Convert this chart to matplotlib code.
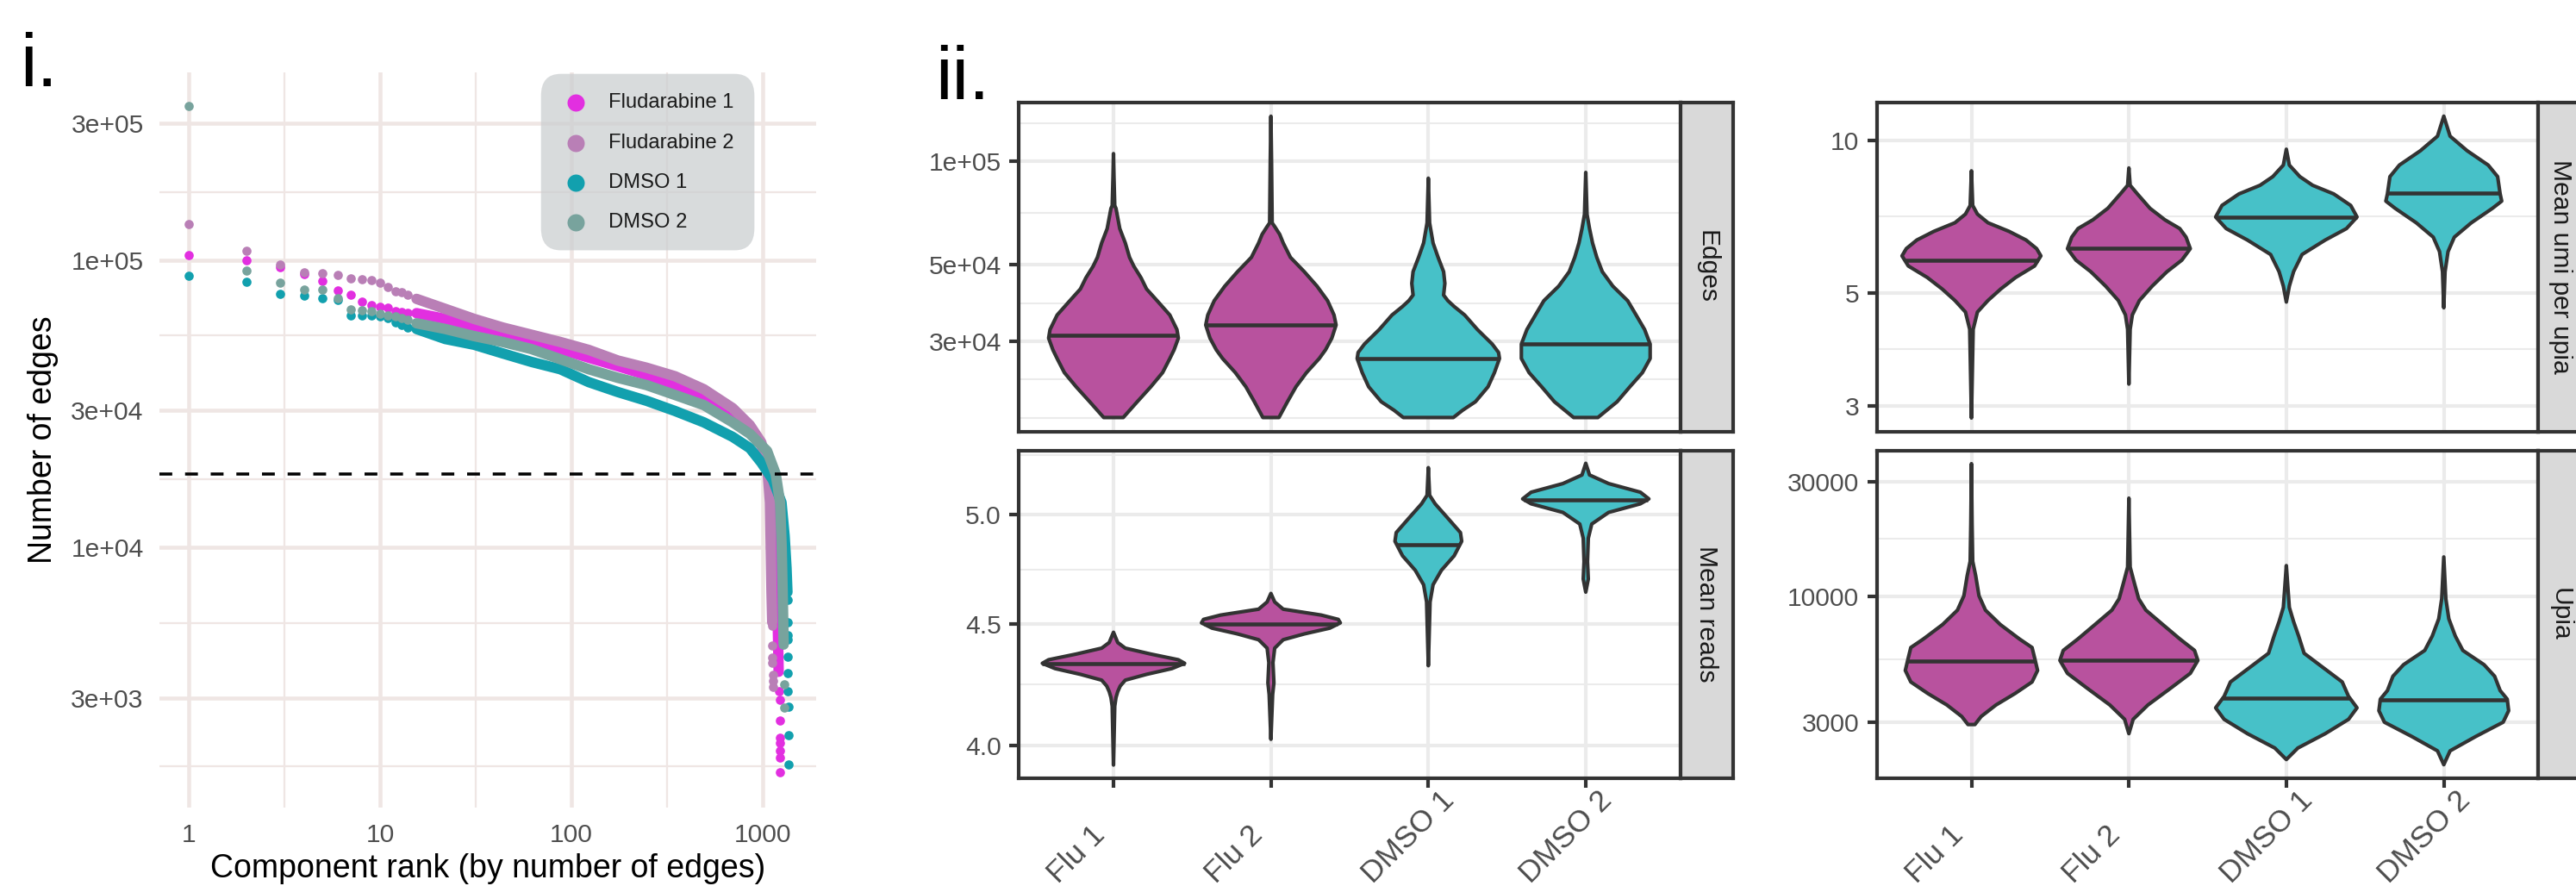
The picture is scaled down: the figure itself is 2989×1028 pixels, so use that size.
import numpy as np
import matplotlib.pyplot as plt
from matplotlib.patches import FancyBboxPatch
from matplotlib.ticker import NullLocator
from matplotlib.transforms import blended_transform_factory

plt.rcParams['font.family'] = ['Liberation Sans', 'DejaVu Sans']

W, H, DPI = 2989, 1028, 300

# ---------------- panel i: edges per component by rank ----------------
samples = ['Fludarabine 1', 'Fludarabine 2', 'DMSO 1', 'DMSO 2']
sample_cols = ['#E22FE0', '#B97FB6', '#12A0AE', '#78A39D']

# biggest components, one dot each
head_rank = [1, 2, 3, 4, 5, 6, 7, 8, 9, 10, 11, 12, 13, 14]
head_flu1 = [1.04e5, 1.0e5, 9.5e4, 8.98e4, 8.45e4, 7.86e4, 7.6e4, 7.17e4, 6.97e4, 6.89e4, 6.84e4, 6.66e4, 6.6e4, 6.56e4]
head_flu2 = [1.34e5, 1.08e5, 9.64e4, 9.1e4, 9.05e4, 8.9e4, 8.65e4, 8.58e4, 8.54e4, 8.36e4, 8.07e4, 7.82e4, 7.75e4, 7.6e4]
head_dmso1 = [8.86e4, 8.42e4, 7.66e4, 7.56e4, 7.36e4, 7.27e4, 6.45e4, 6.42e4, 6.41e4, 6.4e4, 6.3e4, 6.1e4, 5.95e4, 5.85e4]
head_dmso2 = [3.45e5, 9.22e4, 8.38e4, 7.93e4, 7.9e4, 7.36e4, 6.77e4, 6.71e4, 6.66e4, 6.54e4, 6.45e4, 6.37e4, 6.3e4, 6.2e4]

# dense part of each curve, read along the band
flu1_rank = [15.5, 21.9, 31, 43.7, 61.9, 87.4, 123, 175, 247, 348, 492, 696, 856, 982, 1090, 1148, 1170, 1185, 1200, 1210]
flu1_edges = [6.55e4, 6.255e4, 5.905e4, 5.64e4, 5.325e4, 4.91e4, 4.585e4, 4.28e4, 3.99e4, 3.68e4, 3.36e4,
              2.925e4, 2.58e4, 2.27e4, 1.89e4, 1.437e4, 1.0e4, 7.0e3, 5.0e3, 3.7e3]
flu2_rank = [15.5, 21.9, 31, 43.7, 61.9, 87.4, 123, 175, 247, 348, 492, 696, 856, 982, 1053, 1090, 1100, 1110, 1120]
flu2_edges = [7.345e4, 6.78e4, 6.255e4, 5.84e4, 5.51e4, 5.2e4, 4.88e4, 4.48e4, 4.23e4, 3.95e4, 3.56e4,
              3.06e4, 2.67e4, 2.325e4, 1.934e4, 1.437e4, 1.0e4, 7.0e3, 5.5e3]
dmso1_rank = [15.5, 21.9, 31, 43.7, 61.9, 87.4, 123, 175, 247, 348, 492, 696, 856, 982, 1129, 1252, 1300, 1330, 1345]
dmso1_edges = [5.77e4, 5.325e4, 5.085e4, 4.745e4, 4.43e4, 4.18e4, 3.77e4, 3.48e4, 3.245e4, 2.99e4, 2.73e4,
               2.43e4, 2.22e4, 1.978e4, 1.722e4, 1.437e4, 1.1e4, 8.5e3, 7.0e3]
dmso2_rank = [15.5, 21.9, 31, 43.7, 61.9, 87.4, 123, 175, 247, 348, 492, 696, 856, 1053, 1168, 1231, 1255, 1270, 1285]
dmso2_edges = [6.04e4, 5.77e4, 5.45e4, 5.2e4, 4.91e4, 4.53e4, 4.18e4, 3.9e4, 3.68e4, 3.4e4, 3.135e4,
               2.73e4, 2.49e4, 2.17e4, 1.805e4, 1.437e4, 1.0e4, 7.0e3, 4.6e3]

# smallest components, single dots again
flu1_tail_rank = [1222, 1223, 1224, 1225, 1226, 1227, 1228, 1229]
flu1_tail_edges = [3157, 2948, 2500, 2177, 2088, 1961, 1855, 1650]
flu2_tail_rank = [1122, 1123, 1124, 1125, 1126, 1127, 1128]
flu2_tail_edges = [5350, 4550, 4150, 3970, 3620, 3450, 3270]
dmso1_tail_rank = [1350, 1351, 1352, 1353, 1354, 1355, 1356, 1357, 1358, 1359]
dmso1_tail_edges = [6564, 5483, 4976, 4780, 4160, 3650, 3157, 2804, 2233, 1758]
dmso2_tail_rank = [1290, 1292]
dmso2_tail_edges = [3340, 2770]

edge_cutoff = 1.8e4

rank_ticks = [1, 10, 100, 1000]
rank_tick_labels = ['1', '10', '100', '1000']
rank_minor = [3.162, 31.62, 316.2]
edge_ticks = [3e3, 1e4, 3e4, 1e5, 3e5]
edge_tick_labels = ['3e+03', '1e+04', '3e+04', '1e+05', '3e+05']
edge_minor = [1.73e3, 5.48e3, 1.73e4, 5.48e4, 1.73e5]

# ---------------- panel ii: violins (value, half width) ----------------
groups = ['Flu 1', 'Flu 2', 'DMSO 1', 'DMSO 2']
group_fill = ['#B8529E', '#B8529E', '#47C1C8', '#47C1C8']

edges_y = [
    [1.05e5, 9.0e4, 7.42e4, 7.28e4, 6.36e4, 5.78e4, 5.25e4, 4.95e4, 4.58e4, 4.25e4, 3.93e4, 3.57e4, 3.24e4,
     3.06e4, 2.83e4, 2.67e4, 2.43e4, 2.21e4, 2.0e4, 1.8e4],
    [1.348e5, 1.0e5, 6.61e4, 6.45e4, 6.12e4, 5.78e4, 5.25e4, 4.77e4, 4.33e4, 3.93e4, 3.57e4, 3.34e4, 3.06e4,
     2.83e4, 2.67e4, 2.43e4, 2.21e4, 2.0e4, 1.8e4],
    [8.91e4, 6.61e4, 5.78e4, 5.25e4, 4.77e4, 4.41e4, 4.08e4, 3.93e4, 3.78e4, 3.57e4, 3.24e4, 2.94e4, 2.78e4,
     2.67e4, 2.43e4, 2.21e4, 2.0e4, 1.89e4, 1.8e4],
    [9.26e4, 7.0e4, 6.36e4, 5.78e4, 5.25e4, 4.77e4, 4.33e4, 3.93e4, 3.57e4, 3.24e4, 2.94e4, 2.67e4, 2.43e4,
     2.21e4, 2.0e4, 1.8e4],
]
edges_w = [
    [0, 0.003, 0.008, 0.016, 0.040, 0.075, 0.102, 0.129, 0.175, 0.210, 0.277, 0.358, 0.403, 0.412, 0.385,
     0.358, 0.312, 0.237, 0.151, 0.062],
    [0, 0.004, 0.008, 0.024, 0.056, 0.078, 0.124, 0.212, 0.293, 0.360, 0.401, 0.414, 0.387, 0.347, 0.307,
     0.226, 0.159, 0.105, 0.051],
    [0, 0.008, 0.030, 0.062, 0.097, 0.105, 0.097, 0.124, 0.164, 0.231, 0.312, 0.406, 0.446, 0.452, 0.420,
     0.379, 0.299, 0.218, 0.159],
    [0, 0.008, 0.024, 0.043, 0.070, 0.105, 0.172, 0.266, 0.320, 0.374, 0.409, 0.409, 0.360, 0.280, 0.199, 0.077],
]
edges_med = [3.12e4, 3.34e4, 2.67e4, 2.94e4]

reads_y = [
    [4.463, 4.419, 4.395, 4.370, 4.346, 4.331, 4.309, 4.285, 4.261, 4.237, 4.214, 4.190, 4.155, 3.925],
    [4.634, 4.596, 4.564, 4.538, 4.519, 4.504, 4.481, 4.456, 4.431, 4.395, 4.334, 4.250, 4.202, 4.024],
    [5.234, 5.096, 5.054, 4.984, 4.915, 4.874, 4.806, 4.739, 4.673, 4.596, 4.321],
    [5.256, 5.197, 5.154, 5.111, 5.078, 5.054, 5.012, 4.956, 4.888, 4.779, 4.699, 4.640],
]
reads_w = [
    [0, 0.027, 0.075, 0.237, 0.412, 0.452, 0.371, 0.210, 0.075, 0.043, 0.027, 0.016, 0.008, 0],
    [0, 0.024, 0.078, 0.320, 0.428, 0.441, 0.374, 0.212, 0.078, 0.024, 0.013, 0.019, 0.011, 0],
    [0, 0.008, 0.043, 0.124, 0.204, 0.212, 0.164, 0.083, 0.030, 0.011, 0],
    [0, 0.024, 0.145, 0.347, 0.401, 0.347, 0.145, 0.038, 0.016, 0.011, 0.016, 0],
]
reads_med = [4.331, 4.498, 4.856, 5.074]

umi_y = [
    [8.707, 7.441, 7.154, 6.879, 6.615, 6.36, 6.116, 5.919, 5.654, 5.365, 5.093, 4.834, 4.587, 4.242, 2.836],
    [8.821, 8.154, 7.841, 7.345, 6.97, 6.70, 6.445, 6.116, 5.805, 5.509, 5.160, 4.834, 4.528, 4.242, 3.308],
    [9.603, 8.937, 8.481, 8.154, 7.841, 7.441, 7.061, 6.70, 6.36, 5.957, 5.509, 5.160, 4.801],
    [11.16, 10.19, 9.541, 8.937, 8.481, 7.841, 7.59, 7.345, 6.879, 6.445, 6.035, 5.509, 4.677],
]
umi_w = [
    [0, 0.008, 0.038, 0.105, 0.239, 0.347, 0.414, 0.441, 0.401, 0.280, 0.186, 0.105, 0.038, 0.011, 0],
    [0, 0.008, 0.054, 0.134, 0.229, 0.323, 0.363, 0.390, 0.336, 0.242, 0.148, 0.067, 0.022, 0.008, 0],
    [0, 0.019, 0.086, 0.167, 0.301, 0.409, 0.449, 0.382, 0.247, 0.100, 0.046, 0.019, 0],
    [0, 0.040, 0.148, 0.282, 0.342, 0.358, 0.368, 0.309, 0.175, 0.067, 0.027, 0.008, 0],
]
umi_med = [5.805, 6.132, 7.061, 7.862]

upia_y = [
    [35620, 20000, 13970, 12170, 10040, 8750, 7625, 6645, 6116, 5477, 4909, 4397, 3937, 3527, 3160, 2924],
    [25600, 13220, 11520, 9765, 8750, 7625, 6645, 5948, 5405, 4775, 4160, 3527, 3073, 2679],
    [13410, 10600, 8990, 7840, 6830, 5787, 5044, 4397, 3831, 3432, 3073, 2679, 2334, 2091],
    [14570, 9765, 8055, 6830, 5948, 5186, 4644, 4049, 3728, 3338, 2990, 2605, 2272, 1990],
]
upia_w = [
    [0, 0.004, 0.008, 0.027, 0.048, 0.089, 0.183, 0.304, 0.385, 0.403, 0.420, 0.385, 0.277, 0.156, 0.062, 0.022],
    [0, 0.008, 0.032, 0.062, 0.108, 0.215, 0.323, 0.417, 0.438, 0.390, 0.269, 0.121, 0.027, 0],
    [0, 0.011, 0.019, 0.046, 0.078, 0.113, 0.234, 0.355, 0.395, 0.449, 0.395, 0.247, 0.073, 0],
    [0, 0.013, 0.032, 0.073, 0.121, 0.256, 0.323, 0.358, 0.403, 0.412, 0.377, 0.202, 0.040, 0],
]
upia_med = [5374, 5405, 3760, 3698]


def fig_box(x0, y0, x1, y1):
    # pixel box, origin top-left -> figure fraction
    return [x0 / W, 1 - y1 / H, (x1 - x0) / W, (y1 - y0) / H]


fig = plt.figure(figsize=(W / DPI, H / DPI), dpi=DPI)

# ===== panel i =====
ax = fig.add_axes(fig_box(185, 84, 947, 937))
ax.set_xscale('log')
ax.set_yscale('log')
ax.set_xlim(0.703, 1900)
ax.set_ylim(1246, 4.51e5)
for s in ax.spines.values():
    s.set_visible(False)
grid_col = '#EFE6E4'
for v in rank_ticks:
    ax.axvline(v, color=grid_col, lw=1.1, zorder=0)
for v in rank_minor:
    ax.axvline(v, color=grid_col, lw=0.55, zorder=0)
for v in edge_ticks:
    ax.axhline(v, color=grid_col, lw=1.1, zorder=0)
for v in edge_minor:
    ax.axhline(v, color=grid_col, lw=0.55, zorder=0)

heads = [head_flu1, head_flu2, head_dmso1, head_dmso2]
curves = [(flu1_rank, flu1_edges), (flu2_rank, flu2_edges), (dmso1_rank, dmso1_edges), (dmso2_rank, dmso2_edges)]
tails = [(flu1_tail_rank, flu1_tail_edges), (flu2_tail_rank, flu2_tail_edges),
         (dmso1_tail_rank, dmso1_tail_edges), (dmso2_tail_rank, dmso2_tail_edges)]
for i in range(4):
    z = 2 + i
    ax.plot(curves[i][0], curves[i][1], color=sample_cols[i], lw=2.9,
            solid_capstyle='round', solid_joinstyle='round', zorder=z)
    ax.scatter(head_rank, heads[i], s=6.5, color=sample_cols[i], lw=0, zorder=z)
    ax.scatter(tails[i][0], tails[i][1], s=6.5, color=sample_cols[i], lw=0, zorder=z)

ax.axhline(edge_cutoff, color='black', lw=0.85, dashes=(4.2, 4.2), zorder=10)

ax.xaxis.set_minor_locator(NullLocator())
ax.yaxis.set_minor_locator(NullLocator())
ax.set_xticks(rank_ticks, rank_tick_labels)
ax.set_yticks(edge_ticks, edge_tick_labels)
ax.tick_params(which='both', length=0, pad=4.4, labelsize=7.2, labelcolor='#4D4D4D')
ax.set_xlabel('Component rank (by number of edges)', fontsize=9, labelpad=1.5)
ax.set_ylabel('Number of edges', fontsize=9, labelpad=3.5)

# legend box
leg = FancyBboxPatch((0.581, 0.758), 0.325, 0.240, boxstyle='round,pad=0,rounding_size=0.03',
                     transform=ax.transAxes, facecolor=(0.80, 0.81, 0.82), alpha=0.75,
                     edgecolor='none', zorder=11)
ax.add_patch(leg)
leg_y = [0.959, 0.904, 0.850, 0.796]
for i in range(4):
    ax.scatter([0.634], [leg_y[i]], s=23, color=sample_cols[i], lw=0, transform=ax.transAxes, zorder=12,
               clip_on=False)
    ax.text(0.684, leg_y[i], samples[i], transform=ax.transAxes, fontsize=5.7, va='center', ha='left',
            color='#1A1A1A', zorder=12)

fig.text(23 / W, 1 - 100 / H, 'i.', fontsize=21, va='baseline', ha='left')
fig.text(1085 / W, 1 - 115 / H, 'ii.', fontsize=21, va='baseline', ha='left')


# ===== panel ii =====
def violin_panel(box, prof_y, prof_w, med, ylim, major, major_lab, minor, strip_label, show_x, strip_x=0.5):
    pa = fig.add_axes(fig_box(*box))
    pa.set_yscale('log')
    pa.set_xlim(0.4, 4.6)
    pa.set_ylim(*ylim)
    for v in minor:
        pa.axhline(v, color='#EBEBEB', lw=0.5, zorder=0)
    for v in major:
        pa.axhline(v, color='#EBEBEB', lw=1.0, zorder=0)
    for k in range(4):
        pa.axvline(k + 1, color='#EBEBEB', lw=1.0, zorder=0)
    for k in range(4):
        y = np.array(prof_y[k], dtype=float)
        w = np.array(prof_w[k], dtype=float)
        c = k + 1
        xs = np.concatenate([c - w, (c + w)[::-1]])
        ys = np.concatenate([y, y[::-1]])
        pa.fill(xs, ys, facecolor=group_fill[k], edgecolor='#333333', lw=1.0, joinstyle='round', zorder=2)
        hw = np.interp(np.log10(med[k]), np.log10(y[::-1]), w[::-1])
        pa.plot([c - hw, c + hw], [med[k], med[k]], color='#333333', lw=1.1, solid_capstyle='butt', zorder=3)
    pa.yaxis.set_minor_locator(NullLocator())
    pa.set_yticks(major, major_lab)
    pa.set_xticks([1, 2, 3, 4])
    pa.set_xticklabels([])
    pa.tick_params(which='both', direction='out', length=2.75, width=1.0, color='#333333',
                   labelsize=7.2, labelcolor='#4D4D4D', pad=2.2)
    if show_x:
        # rotated labels start below-left of each tick and run up towards it
        tr = blended_transform_factory(pa.transData, fig.transFigure)
        for k in range(4):
            pa.text(k + 1 - 0.35, 1 - 1026 / H, groups[k], transform=tr, rotation=45,
                    rotation_mode='anchor', ha='left', va='baseline', fontsize=8.5,
                    color='#4D4D4D', clip_on=False)
    else:
        pa.tick_params(axis='x', length=0)
    for s in pa.spines.values():
        s.set_color('#333333')
        s.set_linewidth(1.0)
        s.set_zorder(5)
    # facet strip on the right
    sx0 = box[2]
    sa = fig.add_axes(fig_box(sx0, box[1], sx0 + 61, box[3]))
    sa.set_facecolor('#D9D9D9')
    sa.set_xticks([])
    sa.set_yticks([])
    for s in sa.spines.values():
        s.set_color('#333333')
        s.set_linewidth(1.0)
    sa.text(strip_x, 0.5, strip_label, rotation=-90, ha='center', va='center', fontsize=7.2,
            color='#1A1A1A', transform=sa.transAxes)
    return pa


violin_panel((1182.4, 119, 1949.6, 500.6), edges_y, edges_w, edges_med, (1.64e4, 1.477e5),
             [3e4, 5e4, 1e5], ['3e+04', '5e+04', '1e+05'], [1.79e4, 2.32e4, 3.87e4, 7.07e4, 1.29e5],
             'Edges', False)
violin_panel((1182.4, 522.6, 1949.6, 903), reads_y, reads_w, reads_med, (3.875, 5.322),
             [4.0, 4.5, 5.0], ['4.0', '4.5', '5.0'], [4.243, 4.743, 5.30], 'Mean reads', True)
violin_panel((2177.9, 119, 2945.2, 500.6), umi_y, umi_w, umi_med, (2.668, 11.87),
             [3, 5, 10], ['3', '5', '10'], [3.873, 7.071], 'Mean umi per upia', False, strip_x=0.42)
violin_panel((2177.9, 522.6, 2945.2, 903), upia_y, upia_w, upia_med, (1747, 40450),
             [3000, 10000, 30000], ['3000', '10000', '30000'], [5477, 17320], 'Upia', True, strip_x=0.42)

fig.savefig('out.png', dpi=DPI, facecolor='white')
